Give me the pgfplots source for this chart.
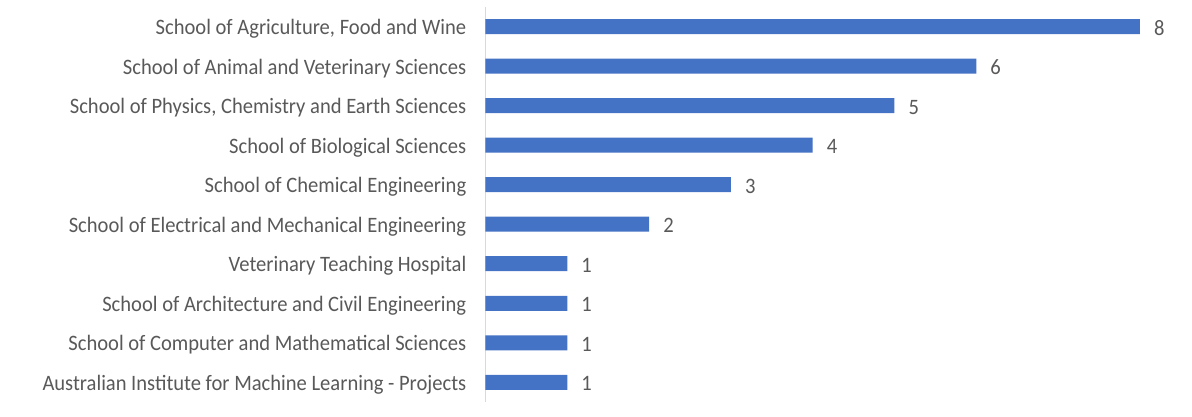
\documentclass[border=0pt]{standalone}
\usepackage{pgfplots}
\pgfplotsset{compat=1.18}
\usepackage{fontspec}
\setmainfont{Carlito}[FakeStretch=0.935]
\definecolor{barblue}{HTML}{4472C4}
\definecolor{txtgray}{HTML}{595959}
\definecolor{axgray}{HTML}{D9D9D9}
\begin{document}
\begin{tikzpicture}[x=1pt,y=1pt]
\begin{axis}[
  at={(0,0)}, anchor=south west,
  scale only axis, width=706.5pt, height=395pt,
  xmin=0, xmax=8.637, ymin=-0.5, ymax=9.5,
  xbar, bar width=15pt,
  axis x line=none,
  axis y line*=left,
  y axis line style={axgray, line width=1.5pt},
  ytick={0,...,9},
  yticklabels={
    {Australian Institute for Machine Learning - Projects},
    {School of Computer and Mathematical Sciences},
    {School of Architecture and Civil Engineering},
    {Veterinary Teaching Hospital},
    {School of Electrical and Mechanical Engineering},
    {School of Chemical Engineering},
    {School of Biological Sciences},
    {School of Physics, Chemistry and Earth Sciences},
    {School of Animal and Veterinary Sciences},
    {School of Agriculture, Food and Wine}},
  major tick length=0pt,
  yticklabel style={anchor=base east, inner sep=0pt, xshift=-19pt, yshift=-8pt,
    font=\fontsize{22}{26}\selectfont, text=txtgray},
  point meta=x,
  nodes near coords,
  nodes near coords style={anchor=base west, inner sep=0pt, xshift=14pt, yshift=-8.5pt,
    font=\fontsize{22}{26}\selectfont, text=txtgray},
  /pgf/number format/assume math mode=true,
  clip=false,
]
\addplot[fill=barblue, draw=none] coordinates {
  (1,0) (1,1) (1,2) (1,3) (2,4) (3,5) (4,6) (5,7) (6,8) (8,9)
};
\end{axis}
\pgfresetboundingbox
\path (-485.5,-14) rectangle (706.5,402);
\end{tikzpicture}
\end{document}
